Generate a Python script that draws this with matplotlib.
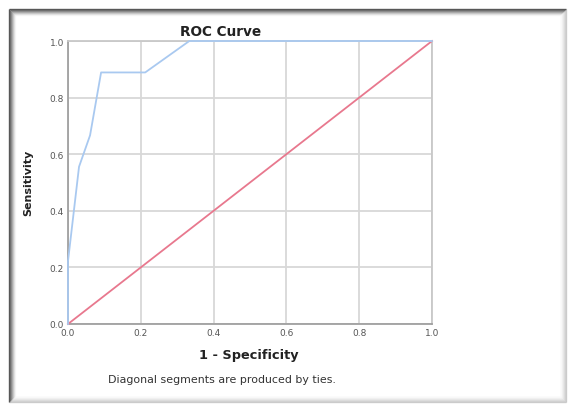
import matplotlib
matplotlib.use("Agg")
import matplotlib.pyplot as plt
from matplotlib.lines import Line2D

plt.rcParams['font.family'] = ['DejaVu Sans']

# Data
fpr = [0.0, 0.0, 0.0303, 0.0606, 0.0909, 0.2121, 0.3333, 1.0]
tpr = [0.0, 0.2222, 0.5556, 0.6667, 0.8889, 0.8889, 1.0, 1.0]
ref_x = [0.0, 1.0]
ref_y = [0.0, 1.0]
ticks = [0.0, 0.2, 0.4, 0.6, 0.8, 1.0]
tick_labels = ["0.0", "0.2", "0.4", "0.6", "0.8", "1.0"]

W, H = 569, 406
fig = plt.figure(figsize=(W / 100, H / 100), dpi=100)
fig.patch.set_facecolor("white")


def fline(xs, ys, color, alpha, lw=1.0):
    fig.add_artist(Line2D([x / W for x in xs], [1 - y / H for y in ys],
                          transform=fig.transFigure, color=color,
                          alpha=alpha, linewidth=lw, solid_capstyle="butt"))


# shadowed frame
x0, y0, x1, y1 = 8.5, 9.5, 566, 403
for i in range(7):
    a_dark = 0.8 * (1 - i / 7) ** 1.6
    a_light = 0.3 * (1 - i / 7) ** 1.8
    # right and bottom (lighter)
    fline([x1 - i, x1 - i], [y0 + i, y1 - i], "#666666", a_light)
    fline([x0 + i, x1 - i], [y1 - i, y1 - i], "#666666", a_light)
    # top and left (dark)
    fline([x0 + i, x1 - i], [y0 + i, y0 + i], "#333333", a_dark)
    fline([x0 + i, x0 + i], [y0 + i, y1 - i], "#333333", a_dark)

ax = fig.add_axes([68 / W, 1 - 325 / H, (432 - 68) / W, (325 - 42) / H])
ax.set_xlim(0, 1)
ax.set_ylim(0, 1)
ax.set_xticks(ticks)
ax.set_yticks(ticks)
ax.set_xticklabels(tick_labels)
ax.set_yticklabels(tick_labels)
ax.tick_params(length=0, labelsize=6.5, labelcolor="#555555", pad=3)
ax.grid(True, color="#d8d8d8", linewidth=1.3)
ax.set_axisbelow(True)
for s in ax.spines.values():
    s.set_color("#c8c8c8")
    s.set_linewidth(1.3)
ax.spines['left'].set_color("#a0a0a0")
ax.spines['bottom'].set_color("#a0a0a0")

ax.plot(ref_x, ref_y, color="#e8788e", linewidth=1.3, clip_on=False, zorder=3)
ax.plot(fpr, tpr, color="#a9c9f0", linewidth=1.3, clip_on=False, zorder=4)

fig.text(221 / W, 1 - 32 / H, "ROC Curve", ha="center", va="center",
         fontsize=9.8, fontweight="bold", color="#222222")
fig.text(249 / W, 1 - 356 / H, "1 - Specificity", ha="center", va="center",
         fontsize=9.3, fontweight="bold", color="#222222")
fig.text(28 / W, 1 - 183 / H, "Sensitivity", ha="center", va="center",
         rotation=90, fontsize=8, fontweight="bold", color="#222222")
fig.text(222 / W, 1 - 380 / H, "Diagonal segments are produced by ties.",
         ha="center", va="center", fontsize=7.9, color="#333333")

fig.savefig("out.png", dpi=100)
